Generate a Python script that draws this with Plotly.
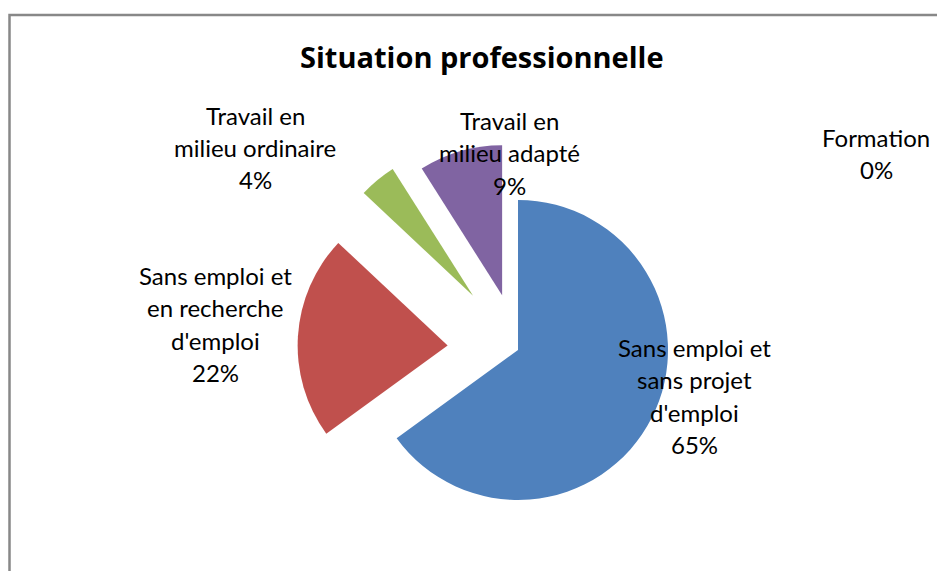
import plotly.graph_objects as go

# Data
categories = [
    "Sans emploi et<br>sans projet<br>d'emploi",
    "Sans emploi et<br>en recherche<br>d'emploi",
    "Travail en<br>milieu ordinaire",
    "Travail en<br>milieu adapté",
    "Formation",
]
values = [65, 22, 4, 9, 0]
pulls = [0, 0.47, 0.47, 0.38, 0]
colors = ["#4F81BD", "#C0504D", "#9BBB59", "#8064A2", "#4BACC6"]
title = "Situation professionnelle"

# Label anchor positions (screen pixels: centre x, first-line y)
label_pos = [(694, 347), (215, 275), (255, 115), (509, 120), (876, 137)]
line_gap = 32.5

W, H = 945, 571
OFF = 8  # default page body margin


def px_x(sx):
    return (sx - OFF) / W


def px_y(sy):
    return 1 - (sy - OFF) / H


cx, cy = 518 - OFF, 350 - OFF
R = 150
maxp = max(pulls)
box = 2 * R * (1 + maxp)

fig = go.Figure()
fig.add_trace(go.Pie(
    labels=[c.replace("<br>", " ") for c in categories],
    values=values,
    pull=pulls,
    marker=dict(colors=colors, line=dict(width=0)),
    sort=False,
    direction="clockwise",
    rotation=0,
    textinfo="none",
    hoverinfo="label+percent",
    showlegend=False,
    domain=dict(x=[(cx - box / 2) / W, (cx + box / 2) / W],
                y=[max(0, (H - cy - box / 2) / H), min(1, (H - cy + box / 2) / H)]),
))

total = sum(values)
annotations = []
for cat, v, (sx, sy) in zip(categories, values, label_pos):
    lines = cat.split("<br>") + [f"{round(100 * v / total)}%"]
    for i, ln in enumerate(lines):
        annotations.append(dict(
            x=px_x(sx), y=px_y(sy + i * line_gap), xref="paper", yref="paper",
            text=ln, showarrow=False, xanchor="center", yanchor="middle",
            font=dict(family="Lato", size=24, color="#000000"),
        ))

annotations.append(dict(
    x=px_x(482), y=px_y(57), xref="paper", yref="paper",
    text=f"<b>{title}</b>", showarrow=False,
    xanchor="center", yanchor="middle",
    font=dict(family="Open Sans", size=29, color="#000000"),
))

fig.update_layout(
    width=W, height=H,
    margin=dict(l=0, r=0, t=0, b=0),
    paper_bgcolor="white",
    plot_bgcolor="white",
    annotations=annotations,
    shapes=[dict(type="rect", xref="paper", yref="paper",
                 x0=px_x(9.5), y0=-0.05, x1=1.05, y1=px_y(15),
                 line=dict(color="#888888", width=2.5))],
)

fig.write_html("out.html")
